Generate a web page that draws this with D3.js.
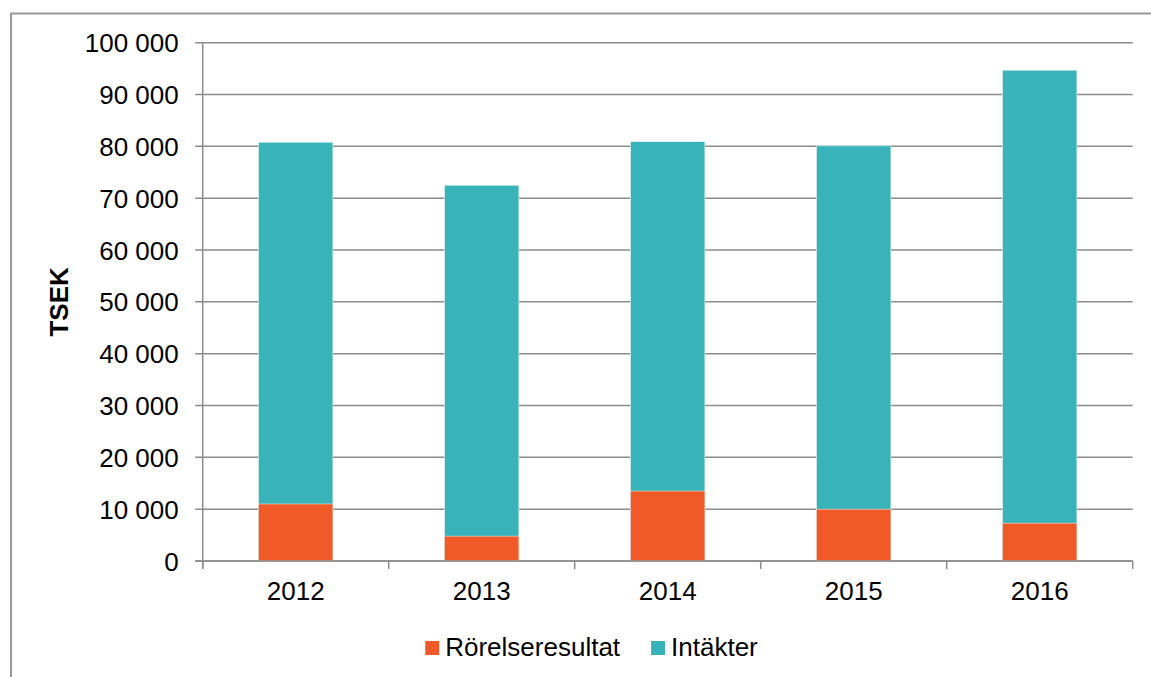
<!DOCTYPE html>
<html>
<head>
<meta charset="utf-8">
<script src="https://cdn.jsdelivr.net/npm/d3@7"></script>
<style>
    body { margin: 0; background: #fff; }
    svg { display: block; font-family: "Liberation Sans", Arial, sans-serif; }
</style>
</head>
<body>
<svg width="1151" height="677"></svg>
<script>
const YEARS = ['2012', '2013', '2014', '2015', '2016'];
const INTAKTER = [80800, 72500, 80900, 80100, 94700];
const RORELSERESULTAT = [11000, 4800, 13500, 10000, 7300];
const Y_TICKS = [0, 10000, 20000, 30000, 40000, 50000, 60000, 70000, 80000, 90000, 100000];
const SERIES_NAMES = ['Rörelseresultat', 'Intäkter'];
const COLORS = ['#f05a28', '#38b3b9'];

const w = 1151;
const h = 677;
const margin = { top: 42.7, right: 18.3, bottom: 116, left: 202.7 };
const innerW = w - margin.left - margin.right;
const innerH = h - margin.top - margin.bottom;
const GRID = '#8c8c8c';
const FONT = '26px';

const svg = d3.select('svg');

// outer chart border
svg.append('rect')
    .attr('x', 11)
    .attr('y', 13.5)
    .attr('width', w)
    .attr('height', h)
    .attr('fill', 'none')
    .attr('stroke', '#9a9a9a')
    .attr('stroke-width', 2);

const sv = d3.formatLocale({ decimal: ',', thousands: ' ', grouping: [3], currency: ['', ' kr'] });
const fmt = sv.format(',d');

const x = d3.scaleBand()
    .domain(YEARS)
    .range([0, innerW])
    .paddingInner(0.6)
    .paddingOuter(0.3);

const y = d3.scaleLinear()
    .domain([0, 100000])
    .range([innerH, 0]);

const g = svg.append('g')
    .attr('transform', `translate(${margin.left},${margin.top})`);

// gridlines
g.append('g')
    .selectAll('line')
    .data(Y_TICKS)
    .enter()
    .append('line')
    .attr('x1', -7.5)
    .attr('x2', innerW)
    .attr('y1', d => y(d))
    .attr('y2', d => y(d))
    .attr('stroke', GRID)
    .attr('stroke-width', 1.5);

// y axis labels
const yAxis = d3.axisLeft(y).tickValues(Y_TICKS).tickFormat(fmt).tickSize(0).tickPadding(24);
g.append('g')
    .call(yAxis)
    .call(a => a.select('.domain').attr('stroke', GRID).attr('stroke-width', 1.5).attr('d', `M0,0V${innerH + 7.5}`))
    .call(a => a.selectAll('text').attr('fill', '#000').style('font-size', FONT).attr('dy', '0.35em'));

// x axis ticks between categories
g.append('g')
    .selectAll('line')
    .data(d3.range(YEARS.length + 1))
    .enter()
    .append('line')
    .attr('x1', i => i * innerW / YEARS.length)
    .attr('x2', i => i * innerW / YEARS.length)
    .attr('y1', innerH)
    .attr('y2', innerH + 8)
    .attr('stroke', GRID)
    .attr('stroke-width', 1.5);

// bars: Intäkter behind, Rörelseresultat in front
const bars = g.append('g');
bars.selectAll('rect.intakter')
    .data(YEARS)
    .enter()
    .append('rect')
    .attr('class', 'intakter')
    .attr('x', d => x(d))
    .attr('width', x.bandwidth())
    .attr('y', (d, i) => y(INTAKTER[i]))
    .attr('height', (d, i) => y(0) - y(INTAKTER[i]))
    .attr('fill', COLORS[1])
    .attr('stroke', '#e8f4f4')
    .attr('stroke-width', 0.6);

bars.selectAll('rect.resultat')
    .data(YEARS)
    .enter()
    .append('rect')
    .attr('class', 'resultat')
    .attr('x', d => x(d))
    .attr('width', x.bandwidth())
    .attr('y', (d, i) => y(RORELSERESULTAT[i]))
    .attr('height', (d, i) => y(0) - y(RORELSERESULTAT[i]))
    .attr('fill', COLORS[0])
    .attr('stroke', '#f4e0d8')
    .attr('stroke-width', 0.6);

// axis line on top of bars
g.append('line')
    .attr('x1', -7.5)
    .attr('x2', innerW)
    .attr('y1', y(0))
    .attr('y2', y(0))
    .attr('stroke', GRID)
    .attr('stroke-width', 1.5);

// x labels
g.append('g')
    .selectAll('text')
    .data(YEARS)
    .enter()
    .append('text')
    .attr('x', d => x(d) + x.bandwidth() / 2)
    .attr('y', innerH + 39)
    .attr('text-anchor', 'middle')
    .style('font-size', FONT)
    .text(d => d);

// y axis title
svg.append('text')
    .attr('transform', `translate(68,${margin.top + innerH / 2}) rotate(-90)`)
    .attr('text-anchor', 'middle')
    .style('font-size', '26px')
    .style('font-weight', 'bold')
    .text('TSEK');

// legend
const legend = svg.append('g').attr('id', 'legend');
const items = legend.selectAll('g')
    .data(SERIES_NAMES)
    .enter()
    .append('g');
items.append('rect')
    .attr('width', 14)
    .attr('height', 14)
    .attr('y', 641)
    .attr('fill', (d, i) => COLORS[i]);
items.append('text')
    .attr('x', 20)
    .attr('y', 656)
    .style('font-size', FONT)
    .text(d => d);

let offset = 0;
const positions = [];
items.each(function () {
    positions.push(offset);
    offset += 20 + this.querySelector('text').getComputedTextLength() + 31;
});
const total = offset - 31;
const start = 591.5 - total / 2;
items.attr('transform', (d, i) => `translate(${start + positions[i]},0)`);
</script>
</body>
</html>
